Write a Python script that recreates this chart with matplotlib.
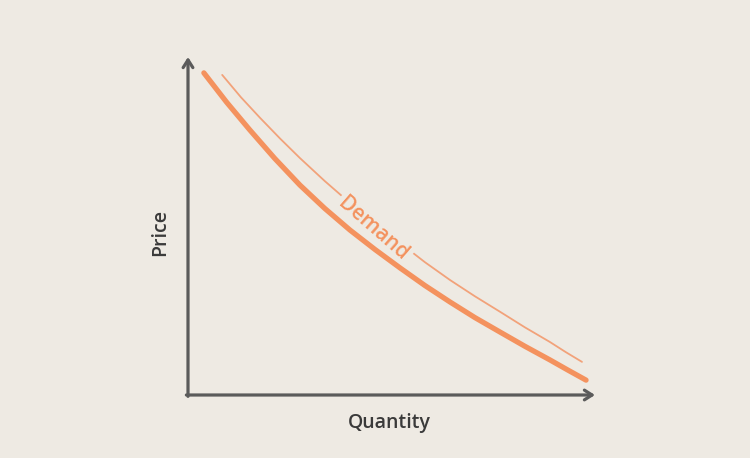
import matplotlib
matplotlib.use("Agg")
import matplotlib.pyplot as plt

# Data (arbitrary units, 0-10 on both axes)
demand_q = [0.39, 0.95, 1.52, 2.13, 2.75, 3.36, 3.98, 4.60, 5.21, 5.82, 6.44, 7.05,
            7.67, 8.28, 8.89, 9.33, 9.78]
demand_p = [9.53, 8.66, 7.84, 7.00, 6.21, 5.52, 4.88, 4.30, 3.76, 3.24, 2.75, 2.29,
            1.86, 1.44, 1.04, 0.74, 0.44]
guide_q = [0.84, 1.30, 1.77, 2.26, 2.75, 3.36, 3.98, 4.60, 5.21, 5.82, 6.44, 7.05,
           7.67, 8.28, 8.89, 9.28, 9.68]
guide_p = [9.47, 8.81, 8.20, 7.59, 7.01, 6.33, 5.68, 5.07, 4.50, 3.93, 3.40, 2.92,
           2.46, 2.00, 1.57, 1.27, 0.98]
label_text = "Demand"
label_pos = (4.55, 4.90)
x_label = "Quantity"
y_label = "Price"

BG = "#EEEAE3"
ORANGE = "#F4925E"
ORANGE_LIGHT = "#F2A27A"
AXIS = "#5B5B5B"
TEXT = "#3A3A3A"

W, H = 750, 458
fig = plt.figure(figsize=(W / 100, H / 100), dpi=100)
fig.patch.set_facecolor(BG)

x0, x1 = 188, 595
y0, y1 = 395, 57
ax = fig.add_axes([x0 / W, (H - y0) / H, (x1 - x0) / W, (y0 - y1) / H])
ax.set_facecolor(BG)
ax.patch.set_alpha(0)
ax.set_xlim(0, 10)
ax.set_ylim(0, 10)
for s in ax.spines.values():
    s.set_visible(False)
ax.set_xticks([])
ax.set_yticks([])

head = "->,head_length=0.55,head_width=0.35"
ax.annotate("", xy=(0, 1), xytext=(0, -0.004), xycoords="axes fraction",
            arrowprops=dict(arrowstyle=head, color=AXIS, lw=2.3, shrinkA=0, shrinkB=0),
            annotation_clip=False)
ax.annotate("", xy=(1, 0), xytext=(-0.004, 0), xycoords="axes fraction",
            arrowprops=dict(arrowstyle=head, color=AXIS, lw=2.3, shrinkA=0, shrinkB=0),
            annotation_clip=False)

ax.plot(guide_q, guide_p, color=ORANGE_LIGHT, lw=1.3, solid_capstyle="round",
        solid_joinstyle="round", clip_on=False, zorder=2)
ax.plot(demand_q, demand_p, color=ORANGE, lw=3.8, solid_capstyle="round",
        solid_joinstyle="round", clip_on=False, zorder=5)

ax.text(label_pos[0], label_pos[1], label_text, rotation=-41, rotation_mode="anchor",
        ha="center", va="center", fontsize=15, color=ORANGE, family="Open Sans",
        fontweight="semibold", zorder=4,
        bbox=dict(boxstyle="square,pad=0.15", fc=BG, ec="none"))

fig.text(389 / W, 1 - 423 / H, x_label, ha="center", va="center", fontsize=14,
         color=TEXT, family="Open Sans", fontweight="semibold")
fig.text(160 / W, 1 - 232 / H, y_label, ha="center", va="center", fontsize=14,
         rotation=90, color=TEXT, family="Open Sans", fontweight="semibold")

fig.savefig("out.png", dpi=100, facecolor=BG)
